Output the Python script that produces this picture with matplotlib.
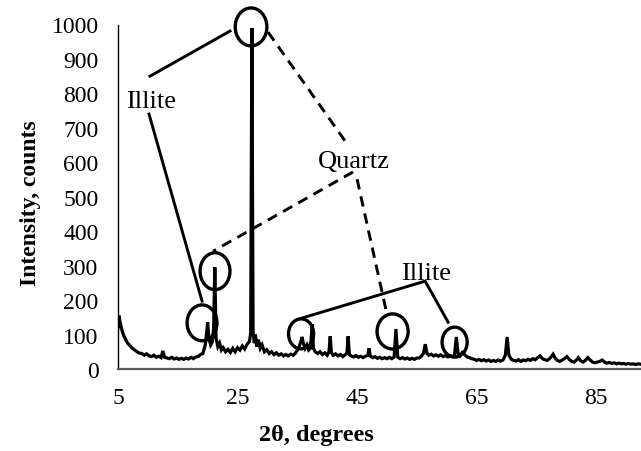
import matplotlib
matplotlib.use("Agg")
import matplotlib.pyplot as plt
from matplotlib.patches import Ellipse

# ── XRD trace (2θ in degrees, intensity in counts) ──
two_theta = [
    5.0, 5.1, 5.2, 5.3, 5.5, 5.7, 6.0, 6.3, 6.6, 7.0, 7.4, 7.8, 8.2, 8.6, 9.0,
    9.4, 9.8, 10.2, 10.6, 11.0, 11.4, 11.8, 12.2, 12.5, 12.8, 13.2, 13.6, 14.0,
    14.4, 14.8, 15.2, 15.6, 16.0, 16.4, 16.8, 17.2, 17.6, 18.0, 18.4, 18.8,
    19.2, 19.6, 19.8, 20.0, 20.2, 20.5, 20.8, 21.0, 21.2, 21.4, 21.7, 22.0,
    22.3, 22.6, 23.0, 23.4, 23.8, 24.2, 24.6, 25.0, 25.4, 25.8, 26.2, 26.6,
    27.0, 27.2, 27.4, 27.6, 27.8, 28.0, 28.2, 28.5, 28.8, 29.1, 29.5, 29.9,
    30.3, 30.7, 31.1, 31.5, 31.9, 32.3, 32.7, 33.1, 33.5, 33.9, 34.3, 34.7,
    35.0, 35.3, 35.6, 35.8, 36.0, 36.3, 36.6, 36.9, 37.2, 37.5, 37.7, 38.0,
    38.4, 38.8, 39.2, 39.6, 40.0, 40.3, 40.5, 40.7, 41.0, 41.4, 41.8, 42.2,
    42.6, 43.0, 43.3, 43.5, 43.7, 44.0, 44.4, 44.8, 45.2, 45.6, 46.0, 46.4,
    46.8, 47.0, 47.2, 47.6, 48.0, 48.4, 48.8, 49.2, 49.6, 50.0, 50.4, 50.8,
    51.2, 51.5, 51.8, 52.2, 52.6, 53.0, 53.4, 53.8, 54.2, 54.6, 55.0, 55.4,
    55.8, 56.1, 56.4, 56.7, 57.0, 57.4, 57.8, 58.2, 58.6, 59.0, 59.4, 59.8,
    60.2, 60.6, 61.0, 61.3, 61.6, 61.9, 62.2, 62.6, 63.0, 63.4, 63.8, 64.2,
    64.6, 65.0, 65.4, 65.8, 66.2, 66.6, 67.0, 67.4, 67.8, 68.2, 68.6, 69.0,
    69.4, 69.8, 70.1, 70.4, 70.8, 71.2, 71.6, 72.0, 72.4, 72.8, 73.2, 73.6,
    74.0, 74.4, 74.8, 75.2, 75.6, 76.0, 76.4, 76.8, 77.2, 77.5, 77.8, 78.1,
    78.5, 78.9, 79.3, 79.7, 80.1, 80.5, 80.9, 81.3, 81.7, 82.0, 82.4, 82.8,
    83.2, 83.6, 84.0, 84.4, 84.8, 85.2, 85.6, 86.0, 86.4, 86.8, 87.2, 87.6,
    88.0, 88.4, 88.8, 89.2, 89.6, 90.0, 90.4, 90.8, 91.2, 91.6, 92.0, 92.4,
]
counts = [
    120, 150, 155, 140, 125, 110, 95, 85, 75, 68, 60, 55, 50, 46, 45,
    40, 44, 38, 36, 40, 34, 37, 33, 52, 34, 32, 30, 34,
    29, 32, 28, 31, 28, 32, 29, 34, 30, 35, 36, 42,
    45, 70, 100, 135, 90, 70, 80, 120, 295, 90, 65, 75,
    55, 62, 50, 57, 48, 60, 50, 62, 55, 67, 58, 72,
    80, 105, 990, 110, 75, 100, 65, 85, 60, 70, 50, 56,
    45, 50, 42, 47, 40, 44, 38, 42, 38, 43, 40, 46,
    55, 65, 80, 93, 75, 60, 70, 55, 60, 130, 60, 50,
    45, 50, 42, 47, 40, 50, 95, 48, 40, 44, 38, 42,
    36, 41, 45, 95, 42, 38, 35, 39, 34, 37, 33, 37,
    40, 60, 38, 33, 36, 31, 34, 30, 33, 30, 34, 30,
    35, 116, 34, 30, 33, 29, 32, 28, 31, 28, 32, 32,
    38, 45, 72, 45, 40, 43, 38, 41, 37, 41, 36, 39,
    35, 39, 36, 40, 93, 45, 38, 48, 42, 35, 33, 30,
    28, 25, 28, 24, 27, 23, 26, 22, 25, 22, 26, 23,
    26, 40, 93, 40, 28, 25, 23, 27, 22, 26, 24, 28,
    25, 30, 27, 33, 38, 30, 27, 25, 30, 36, 43, 33,
    25, 22, 26, 30, 36, 28, 22, 20, 26, 33, 24, 20,
    25, 33, 26, 20, 18, 20, 22, 26, 20, 17, 19, 16,
    18, 15, 17, 15, 16, 14, 16, 14, 15, 13, 15, 14,
]

x_ticks = [5, 25, 45, 65, 85]
y_ticks = list(range(0, 1001, 100))

# ── annotation layout (data coordinates) ──
circles = [  # (x, y, width, height)
    (27.26, 993, 5.3, 110),
    (21.23, 284, 5.0, 107),
    (19.06, 134, 5.0, 104),
    (35.63, 102, 4.2, 87),
    (50.94, 109, 5.2, 102),
    (61.32, 78, 4.2, 87),
]
solid_x = [[10.36, 23.74], [10.19, 19.06], [35.8, 56.38, 60.23]]
solid_y = [[850, 981], [740, 197], [148, 255, 136]]
dash_x = [[30.1, 42.99], [44.33, 20.9], [45.0, 50.02]]
dash_y = [[978, 662], [572, 342], [551, 157]]
labels = [("Illite", 10.52, 760), ("Quartz", 44.5, 586), ("Illite", 56.55, 261)]

plt.rcParams["font.family"] = ["Liberation Serif", "DejaVu Serif"]

fig = plt.figure(figsize=(6.41, 4.52), dpi=100)
ax = fig.add_axes([118 / 641, 1 - 370 / 452, 523 / 641, 344.5 / 452])

ax.plot(two_theta, counts, color="black", lw=2.3, solid_joinstyle="miter")

ax.set_xlim(5, 92.5)
ax.set_ylim(0, 1000)
ax.set_xticks(x_ticks)
ax.set_yticks(y_ticks)
ax.tick_params(length=0, labelsize=17, colors="black")
ax.tick_params(axis="x", pad=13)
ax.tick_params(axis="y", pad=14)

for side in ("top", "right"):
    ax.spines[side].set_visible(False)
ax.spines["left"].set_color("black")
ax.spines["left"].set_linewidth(1.0)
ax.spines["bottom"].set_color("#595959")
ax.spines["bottom"].set_linewidth(1.6)

ax.set_ylabel("Intensity, counts", fontsize=17, fontweight="bold")
ax.yaxis.set_label_coords(-0.148, 0.485)
ax.set_xlabel("2θ, degrees", fontsize=17.5, fontweight="bold")
ax.xaxis.set_label_coords(0.38, -0.16)

for cx, cy, w, h in circles:
    ax.add_patch(Ellipse((cx, cy), w, h, fill=False, edgecolor="black",
                         lw=2.4, clip_on=False))
for xs, ys in zip(solid_x, solid_y):
    ax.plot(xs, ys, color="black", lw=2.1, clip_on=False)
for xs, ys in zip(dash_x, dash_y):
    ax.plot(xs, ys, color="black", lw=2.1, linestyle=(0, (3.6, 2.4)),
            clip_on=False)
for txt, tx, ty in labels:
    ax.text(tx, ty, txt, fontsize=19, ha="center", va="baseline")

fig.savefig("out.png", dpi=100)
